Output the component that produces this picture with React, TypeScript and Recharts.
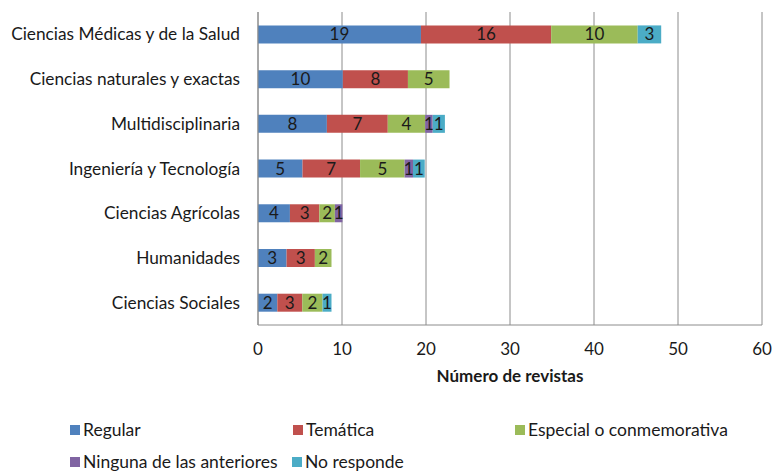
import React from 'react';
import { BarChart, Bar, XAxis, YAxis, CartesianGrid, LabelList, Legend } from 'recharts';

const categories = [
  'Ciencias Médicas y de la Salud',
  'Ciencias naturales y exactas',
  'Multidisciplinaria',
  'Ingeniería y Tecnología',
  'Ciencias Agrícolas',
  'Humanidades',
  'Ciencias Sociales',
];

const regular = [19.4, 10.1, 8.2, 5.3, 3.8, 3.4, 2.3];
const tematica = [15.5, 7.75, 7.25, 6.85, 3.5, 3.37, 2.97];
const especial = [10.3, 4.95, 4.45, 5.3, 1.85, 1.98, 2.41];
const ninguna = [0, 0, 0.9, 1.0, 0.9, 0, 0];
const noResponde = [2.8, 0, 1.45, 1.4, 0, 0, 1.07];

const regularLabels = [19, 10, 8, 5, 4, 3, 2];
const tematicaLabels = [16, 8, 7, 7, 3, 3, 3];
const especialLabels = [10, 5, 4, 5, 2, 2, 2];
const ningunaLabels: (number | null)[] = [null, null, 1, 1, 1, null, null];
const noRespondeLabels: (number | null)[] = [3, null, 1, 1, null, null, 1];

const xTicks = [0, 10, 20, 30, 40, 50, 60];

const seriesNames = ['Regular', 'Temática', 'Especial o conmemorativa', 'Ninguna de las anteriores', 'No responde'];
const seriesColors = ['#4F81BD', '#C0504D', '#9BBB59', '#8064A2', '#4BACC6'];

const data = categories.map((c, i) => ({
  name: c,
  regular: regular[i],
  tematica: tematica[i],
  especial: especial[i],
  ninguna: ninguna[i],
  noResponde: noResponde[i],
  regularL: regularLabels[i],
  tematicaL: tematicaLabels[i],
  especialL: especialLabels[i],
  ningunaL: ningunaLabels[i],
  noRespondeL: noRespondeLabels[i],
}));

const keys = ['regular', 'tematica', 'especial', 'ninguna', 'noResponde'];

const FONT = 'Lato, sans-serif';

const legendPos = [
  { left: 70, top: 35 },
  { left: 293, top: 35 },
  { left: 515, top: 35 },
  { left: 70, top: 67 },
  { left: 292, top: 67 },
];

const LegendContent = () => (
  <div style={{ position: 'relative', width: 772, height: 85, fontFamily: FONT, fontSize: 17.5, lineHeight: '20px', color: '#1a1a1a' }}>
    {seriesNames.map((n, i) => (
      <div key={n} style={{ position: 'absolute', left: legendPos[i].left, top: legendPos[i].top, height: 20, display: 'flex', alignItems: 'center', whiteSpace: 'nowrap' }}>
        <span style={{ display: 'inline-block', width: 10, height: 10, background: seriesColors[i], marginRight: 3 }} />
        <span>{n}</span>
      </div>
    ))}
  </div>
);

export default function App() {
  return (
    <div style={{ position: 'absolute', left: 0, top: 0, width: 772, height: 473, background: '#fff' }}>
      <BarChart
        width={772}
        height={473}
        data={data}
        layout="vertical"
        margin={{ top: 12, right: 10, bottom: 3, left: 0 }}
        barCategoryGap="30%"
      >
        <CartesianGrid horizontal={false} stroke="#8c8c8c" />
        <XAxis
          type="number"
          domain={[0, 60]}
          ticks={xTicks}
          interval={0}
          axisLine={{ stroke: '#8c8c8c' }}
          tickLine={false}
          tickSize={0}
          tickMargin={18}
          height={60}
          tick={{ fontFamily: FONT, fontSize: 17, fill: '#1a1a1a' }}
          label={{ value: 'Número de revistas', position: 'insideBottom', offset: 3, style: { fontFamily: FONT, fontSize: 17, fontWeight: 'bold', fill: '#1a1a1a' } }}
        />
        <YAxis
          type="category"
          dataKey="name"
          width={258}
          axisLine={{ stroke: '#8c8c8c' }}
          tickLine={false}
          tickSize={0}
          tickMargin={18}
          interval={0}
          tick={{ fontFamily: FONT, fontSize: 17.3, fill: '#1a1a1a' }}
        />
        <Legend verticalAlign="bottom" content={<LegendContent />} wrapperStyle={{ width: 772, height: 85 }} />
        {keys.map((k, i) => (
          <Bar key={k} dataKey={k} name={seriesNames[i]} stackId="a" fill={seriesColors[i]} isAnimationActive={false}>
            <LabelList dataKey={k + 'L'} position="center" style={{ fontFamily: FONT, fontSize: 17, fill: '#1a1a1a' }} />
          </Bar>
        ))}
      </BarChart>
    </div>
  );
}
